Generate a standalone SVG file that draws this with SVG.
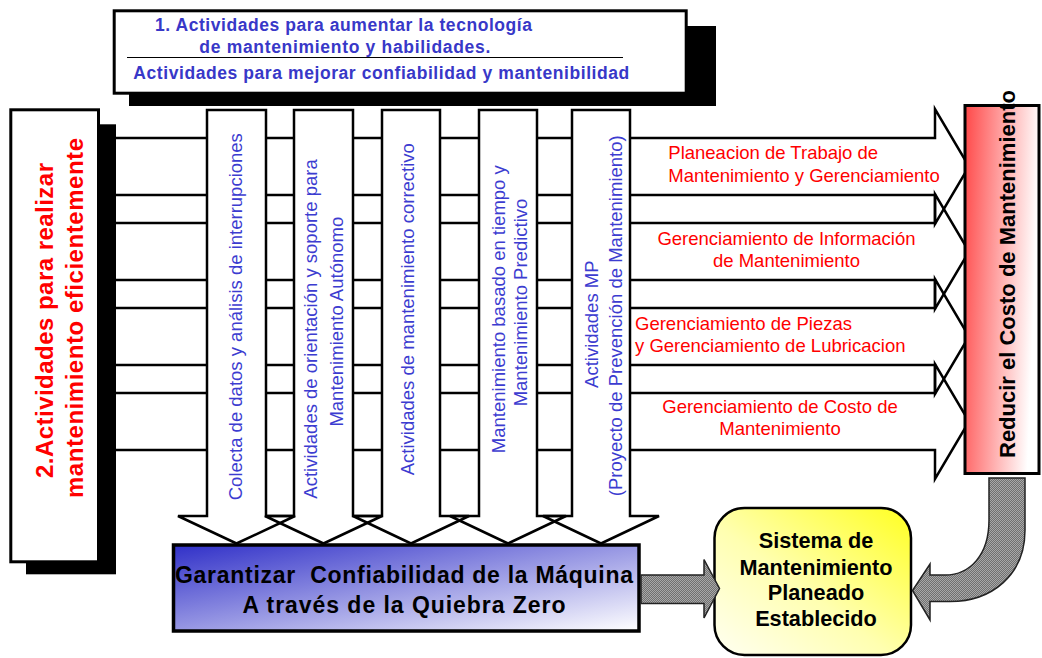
<svg xmlns="http://www.w3.org/2000/svg" width="1042" height="658" viewBox="0 0 1042 658">
<defs>
  <linearGradient id="gBlue" x1="0" y1="0" x2="1" y2="1">
    <stop offset="0" stop-color="#3030c8"/>
    <stop offset="1" stop-color="#ffffff"/>
  </linearGradient>
  <linearGradient id="gRed" x1="0" y1="0" x2="1" y2="0.2">
    <stop offset="0" stop-color="#ff4848"/>
    <stop offset="1" stop-color="#ffffff"/>
  </linearGradient>
  <linearGradient id="gYellow" x1="1" y1="0" x2="0" y2="1">
    <stop offset="0" stop-color="#ffff20"/>
    <stop offset="0.55" stop-color="#ffffb0"/>
    <stop offset="1" stop-color="#fffff2"/>
  </linearGradient>
  <pattern id="dots" width="2" height="2" patternUnits="userSpaceOnUse">
    <rect width="2" height="2" fill="#707070"/>
    <rect width="1" height="1" fill="#a8a8a8"/>
    <rect x="1" y="1" width="1" height="1" fill="#a8a8a8"/>
  </pattern>
</defs>
<style>
  .ln{fill:none;stroke:#000;stroke-width:2.5;stroke-linejoin:miter}
  .bd{fill:#fff;stroke:none}
  .vt{font-family:"Liberation Sans",Arial,sans-serif;font-size:18.5px;fill:#3c3cd0;text-anchor:middle}
  .rt{font-family:"Liberation Sans",Arial,sans-serif;font-size:18.5px;fill:#ff0000}
  .bt{font-family:"Liberation Sans",Arial,sans-serif;font-weight:bold}
  .shadow{fill:#000}
  .gray{fill:url(#dots);stroke:#222;stroke-width:1.5;stroke-linejoin:miter}
  .box{stroke:#000;stroke-width:3}
</style>
<rect width="1042" height="658" fill="#fff"/>

<!-- Horizontal arrows (behind) -->
<g id="h-arrow-1">
  <path class="ln" d="M110 138 H935 V109 L969 166.5 L935 224 V195 H110"/>
  <text class="rt" x="668.3" y="159.3">Planeacion de Trabajo de</text>
  <text class="rt" x="668.3" y="181.7">Mantenimiento y Gerenciamiento</text>
</g>
<g id="h-arrow-2">
  <path class="ln" d="M110 223 H935 V194 L969 251.5 L935 309 V280 H110"/>
  <text class="rt" x="786.5" y="245" text-anchor="middle">Gerenciamiento de Información</text>
  <text class="rt" x="786.5" y="266.7" text-anchor="middle">de Mantenimiento</text>
</g>
<g id="h-arrow-3">
  <path class="ln" d="M110 308 H935 V279 L969 336.5 L935 394 V365 H110"/>
  <text class="rt" x="635" y="330">Gerenciamiento de Piezas</text>
  <text class="rt" x="635" y="351.7">y Gerenciamiento de Lubricacion</text>
</g>
<g id="h-arrow-4">
  <path class="ln" d="M110 393 H935 V364 L969 421.5 L935 479 V450 H110"/>
  <text class="rt" x="780" y="412.7" text-anchor="middle">Gerenciamiento de Costo de</text>
  <text class="rt" x="780" y="435" text-anchor="middle">Mantenimiento</text>
</g>

<!-- Vertical arrows -->
<g id="v-arrow-1">
  <rect class="bd" x="207" y="110" width="59" height="405"/>
  <path class="ln" d="M207 516 V110 H266 V516 H295 L236.5 543.5 L178 516 Z"/>
  <text class="vt" transform="translate(241.7,316.7) rotate(-90)">Colecta de datos y análisis de interrupciones</text>
</g>
<g id="v-arrow-2">
  <rect class="bd" x="294" y="110" width="59" height="405"/>
  <path class="ln" d="M294 516 V110 H353 V516 H382 L323.5 543.5 L265 516 Z"/>
  <text class="vt" transform="translate(317.3,329) rotate(-90)">Actividades de orientación y soporte para</text>
  <text class="vt" transform="translate(342.7,321.7) rotate(-90)">Mantenimiento Autónomo</text>
</g>
<g id="v-arrow-3">
  <rect class="bd" x="382" y="110" width="58" height="405"/>
  <path class="ln" d="M382 516 V110 H440 V516 H469 L411 543.5 L353 516 Z"/>
  <text class="vt" transform="translate(414.3,309.2) rotate(-90)">Actividades de mantenimiento correctivo</text>
</g>
<g id="v-arrow-4">
  <rect class="bd" x="479" y="110" width="58" height="405"/>
  <path class="ln" d="M479 516 V110 H537 V516 H566 L508 543.5 L450 516 Z"/>
  <text class="vt" transform="translate(505,309.2) rotate(-90)">Mantenimiento basado en tiempo y</text>
  <text class="vt" transform="translate(526.7,302.5) rotate(-90)">Mantenimiento Predictivo</text>
</g>
<g id="v-arrow-5">
  <rect class="bd" x="572" y="110" width="58" height="405"/>
  <path class="ln" d="M572 516 V110 H630 V516 H659 L601 543.5 L543 516 Z"/>
  <text class="vt" transform="translate(597.7,324.2) rotate(-90)">Actividades MP</text>
  <text class="vt" transform="translate(621.7,315.8) rotate(-90)">(Proyecto de Prevención de Mantenimiento)</text>
</g>

<!-- Top box -->
<g id="top-box">
  <rect class="shadow" x="129" y="26" width="587" height="80"/>
  <rect class="box" x="114.2" y="10.8" width="572" height="82.4" fill="#fff"/>
  <line x1="127" y1="57.5" x2="623" y2="57.5" stroke="#000" stroke-width="1.2"/>
  <text class="bt" x="155" y="30.7" font-size="17.5" fill="#3838c8" textLength="377" lengthAdjust="spacing">1. Actividades para aumentar la tecnología</text>
  <text class="bt" x="199.3" y="52.7" font-size="17.5" fill="#3838c8" textLength="291" lengthAdjust="spacing">de mantenimiento y habilidades.</text>
  <text class="bt" x="133.3" y="79.3" font-size="17.5" fill="#3838c8" textLength="496" lengthAdjust="spacing">Actividades para mejorar confiabilidad y mantenibilidad</text>
</g>

<!-- Left box -->
<g id="left-box">
  <rect class="shadow" x="26" y="124.3" width="90" height="450"/>
  <rect class="box" x="10.8" y="109.8" width="87.7" height="452" fill="#fff"/>
  <text class="bt" font-size="24" fill="#ff0000" text-anchor="middle" textLength="315" lengthAdjust="spacing" transform="translate(53.3,320.5) rotate(-90)">2.Actividades para realizar</text>
  <text class="bt" font-size="24" fill="#ff0000" text-anchor="middle" textLength="360" lengthAdjust="spacing" transform="translate(83.3,318) rotate(-90)">mantenimiento eficientemente</text>
</g>

<!-- Right box -->
<g id="right-box">
  <rect class="box" x="965" y="105.5" width="74" height="368" fill="url(#gRed)"/>
  <text class="bt" font-size="22" fill="#000" transform="translate(1015,458) rotate(-90)">Reducir el Costo de Mantenimiento</text>
</g>

<!-- Bottom blue box -->
<g id="blue-box">
  <rect x="173.5" y="545" width="465.5" height="86" fill="url(#gBlue)" stroke="#000" stroke-width="3.5"/>
  <text class="bt" x="175" y="582.7" font-size="23" fill="#000" textLength="458" lengthAdjust="spacing">Garantizar&#160; Confiabilidad de la Máquina</text>
  <text class="bt" x="242.5" y="613.3" font-size="23" fill="#000" textLength="323" lengthAdjust="spacing">A través de la Quiebra Zero</text>
</g>

<!-- Yellow box -->
<g id="yellow-box">
  <rect x="714.5" y="508" width="196.5" height="147" rx="30" ry="30" fill="url(#gYellow)" stroke="#000" stroke-width="2.5"/>
  <g class="bt" font-size="21.7" fill="#000" text-anchor="middle">
    <text x="816" y="548">Sistema de</text>
    <text x="816" y="574.5">Mantenimiento</text>
    <text x="816" y="600">Planeado</text>
    <text x="816" y="626">Establecido</text>
  </g>
</g>

<!-- Connectors -->
<g id="connectors">
  <path class="gray" d="M641 575 H704 V559.5 L719.5 588.5 L704 618 V603.5 H641 Z"/>
  <path class="gray" d="M989 478 V520 C989 555 970 575 945 575 H930 V564 L912.5 590.5 L930 620 V601.5 H950 C992 601.5 1025 575 1025 530 V478 Z"/>
</g>
</svg>
